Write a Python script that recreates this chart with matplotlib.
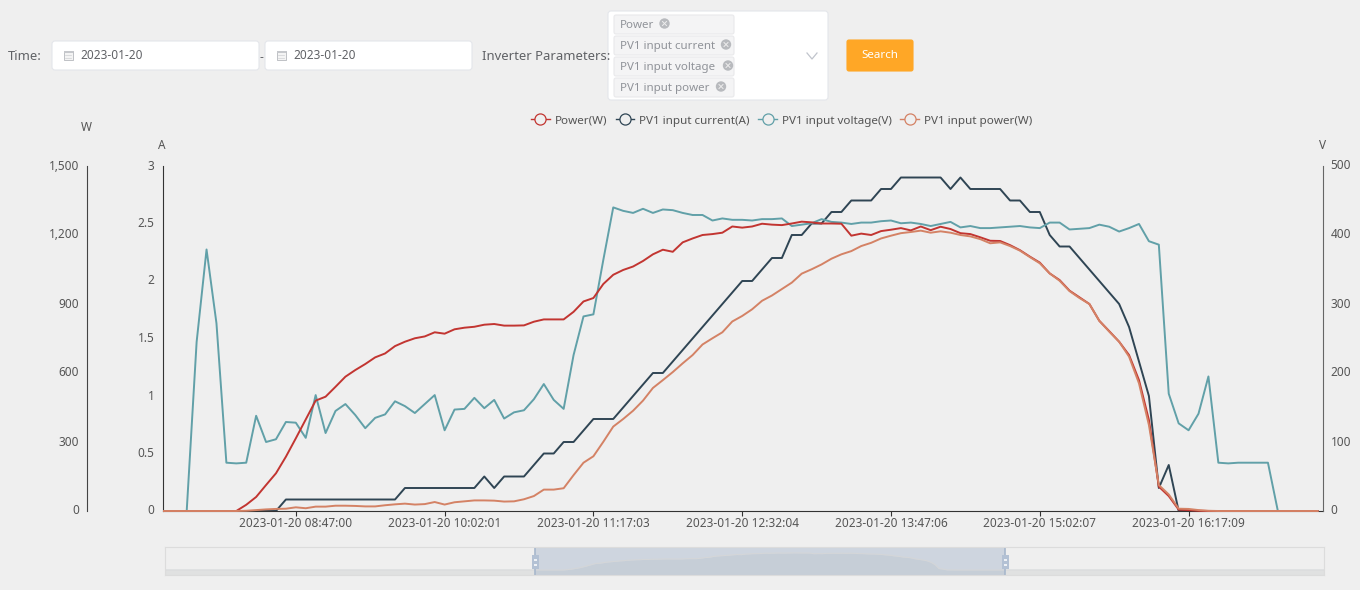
import numpy as np
import matplotlib
matplotlib.use("Agg")
import matplotlib.pyplot as plt
from matplotlib.lines import Line2D
from matplotlib.patches import FancyBboxPatch, Rectangle, Circle
from matplotlib.transforms import Bbox, TransformedBbox, ScaledTranslation

plt.rcParams['font.family'] = ['Noto Sans', 'DejaVu Sans']

BG = '#efefef'
C_POWER, C_CUR, C_VOLT, C_INP = '#c23531', '#2f4554', '#61a0a8', '#d48265'

power_w = [0, 0, 0, 0, 0, 0, 0, 0, 0, 27, 61, 113, 164, 236, 316, 398, 480, 497, 540, 584, 613, 639, 668, 685, 717, 736,
           751, 759, 777, 771, 790, 797, 801, 810, 813, 806, 806, 807, 823, 833, 833, 833, 866, 911, 926, 987, 1027,
           1048, 1063, 1087, 1116, 1136, 1127, 1168, 1185, 1200, 1204, 1210, 1237, 1232, 1237, 1249, 1245, 1243, 1250,
           1258, 1255, 1250, 1250, 1249, 1197, 1206, 1200, 1217, 1223, 1230, 1220, 1237, 1221, 1236, 1226, 1208, 1204,
           1190, 1175, 1174, 1156, 1134, 1106, 1080, 1033, 1004, 958, 929, 900, 827, 782, 736, 678, 569, 396, 106, 65,
           6, 4, 1, 0, 0, 0, 0, 0, 0, 0, 0, 0, 0, 0, 0]
current_a = [0, 0, 0, 0, 0, 0, 0, 0, 0, 0, 0, 0, 0, 0.1, 0.1, 0.1, 0.1, 0.1, 0.1, 0.1, 0.1, 0.1, 0.1, 0.1, 0.1, 0.2,
             0.2, 0.2, 0.2, 0.2, 0.2, 0.2, 0.2, 0.3, 0.2, 0.3, 0.3, 0.3, 0.4, 0.5, 0.5, 0.6, 0.6, 0.7, 0.8, 0.8, 0.8,
             0.9, 1.0, 1.1, 1.2, 1.2, 1.3, 1.4, 1.5, 1.6, 1.7, 1.8, 1.9, 2.0, 2.0, 2.1, 2.2, 2.2, 2.4, 2.4, 2.5, 2.5,
             2.6, 2.6, 2.7, 2.7, 2.7, 2.8, 2.8, 2.9, 2.9, 2.9, 2.9, 2.9, 2.8, 2.9, 2.8, 2.8, 2.8, 2.8, 2.7, 2.7, 2.6,
             2.6, 2.4, 2.3, 2.3, 2.2, 2.1, 2.0, 1.9, 1.8, 1.6, 1.3, 1.0, 0.2, 0.4, 0, 0, 0, 0, 0, 0, 0, 0, 0, 0, 0, 0,
             0, 0, 0]
voltage_v = [0, 0, 0, 0, 245, 379, 272, 70, 69, 70, 138, 100, 104, 129, 128, 106, 168, 113, 145, 155, 139, 120, 135,
             140, 159, 152, 142, 155, 168, 117, 147, 148, 164, 149, 161, 134, 143, 146, 162, 184, 161, 148, 226, 282,
             285, 364, 440, 435, 432, 438, 432, 437, 436, 432, 429, 429, 421, 424, 422, 422, 421, 423, 423, 424, 413,
             415, 417, 423, 419, 418, 416, 418, 418, 420, 421, 417, 418, 416, 413, 416, 419, 411, 413, 410, 410, 411,
             412, 413, 411, 410, 418, 418, 408, 409, 410, 415, 412, 405, 410, 416, 391, 386, 170, 127, 117, 141, 195,
             70, 69, 70, 70, 70, 70, 0, 0, 0, 0, 0]
input_power_w = [0, 0, 0, 0, 0, 0, 0, 0, 0, 1, 4, 7, 9, 10, 16, 12, 19, 19, 23, 23, 22, 20, 20, 25, 29, 32, 28, 30, 39,
                 28, 38, 42, 46, 46, 45, 41, 42, 51, 65, 93, 93, 99, 156, 210, 238, 301, 367, 400, 436, 480, 535, 569,
                 604, 642, 678, 724, 751, 777, 824, 848, 877, 914, 937, 965, 993, 1032, 1051, 1072, 1097, 1116, 1130,
                 1152, 1166, 1185, 1197, 1208, 1213, 1219, 1210, 1216, 1210, 1200, 1194, 1182, 1164, 1168, 1152, 1132,
                 1104, 1077, 1033, 1001, 956, 926, 900, 827, 780, 736, 671, 555, 374, 113, 72, 10, 9, 4, 1, 0, 0, 0, 0,
                 0, 0, 0, 0, 0, 0, 0]

tick_positions = [14, 29, 44, 59, 74, 89, 104]
tick_labels = ['2023-01-20 08:47:00', '2023-01-20 10:02:01', '2023-01-20 11:17:03', '2023-01-20 12:32:04',
               '2023-01-20 13:47:06', '2023-01-20 15:02:07', '2023-01-20 16:17:09']
w_ticks = [0, 300, 600, 900, 1200, 1500]
a_ticks = [0, 0.5, 1, 1.5, 2, 2.5, 3]
a_labels = ['0', '0.5', '1', '1.5', '2', '2.5', '3']
v_ticks = [0, 100, 200, 300, 400, 500]
legend_names = ['Power(W)', 'PV1 input current(A)', 'PV1 input voltage(V)', 'PV1 input power(W)']
param_tags = ['Power', 'PV1 input current', 'PV1 input voltage', 'PV1 input power']
dates = ['2023-01-20', '2023-01-20']

W, H = 1360, 590
FS = 8.5
fig = plt.figure(figsize=(W / 100, H / 100), dpi=100, facecolor=BG)


def px_axes(x0, y0, x1, y1, **kw):
    return fig.add_axes([x0 / W, 1 - y1 / H, (x1 - x0) / W, (y1 - y0) / H], **kw)


# ---- main chart -------------------------------------------------------
ax_a = px_axes(162.5, 166, 1322.5, 511)
ax_v = ax_a.twinx()
ax_w = ax_a.twinx()
ax_a.set_zorder(2); ax_v.set_zorder(3); ax_w.set_zorder(4)
for a in (ax_v, ax_w):
    a.patch.set_visible(False)
ax_a.patch.set_visible(False)

x = np.arange(len(power_w))
clip = TransformedBbox(Bbox([[0, -0.02], [1, 1.02]]), ax_a.transAxes)
series = [(ax_w, power_w, C_POWER), (ax_a, current_a, C_CUR), (ax_v, voltage_v, C_VOLT), (ax_w, input_power_w, C_INP)]
for a, vals, c in series:
    ln, = a.plot(x, vals, color=c, lw=1.4, solid_joinstyle='round')
    ln.set_clip_box(clip)

for a, top in ((ax_a, 3), (ax_v, 500), (ax_w, 1500)):
    a.set_xlim(0.56, 117.5)
    a.set_ylim(0, top)
    for s in a.spines.values():
        s.set_visible(False)

TICKC = '#555555'
ax_a.spines['left'].set_visible(True)
ax_a.spines['left'].set_color('#333333')
ax_a.spines['bottom'].set_visible(True)
ax_a.spines['bottom'].set_color('#333333')
ax_a.set_yticks(a_ticks, a_labels)
ax_a.tick_params(axis='y', length=0, pad=5.8, labelsize=FS, labelcolor=TICKC)
ax_a.set_xticks(tick_positions, tick_labels)
ax_a.tick_params(axis='x', length=3.6, width=0.8, color='#333333', pad=0.5, labelsize=FS, labelcolor=TICKC)

ax_w.spines['left'].set_visible(True)
ax_w.spines['left'].set_position(('outward', 75.5 * 0.72))
ax_w.spines['left'].set_color('#444444')
ax_w.yaxis.set_label_position('left')
ax_w.yaxis.tick_left()
ax_w.set_yticks(w_ticks, [f'{v:,}' for v in w_ticks])
ax_w.tick_params(axis='y', length=0, pad=5.8, labelsize=FS, labelcolor=TICKC)

ax_v.spines['right'].set_visible(True)
ax_v.spines['right'].set_color('#666666')
ax_v.set_yticks(v_ticks, [str(v) for v in v_ticks])
ax_v.tick_params(axis='y', length=0, pad=5.8, labelsize=FS, labelcolor=TICKC)

up = ScaledTranslation(0, 1.5 / 100, fig.dpi_scale_trans)
for a in (ax_a, ax_v, ax_w):
    for lab in a.get_yticklabels():
        lab.set_transform(lab.get_transform() + up)

# ---- legend -----------------------------------------------------------
handles = [Line2D([], [], color=c, lw=1.0, marker='o', ms=8, mfc=BG, mew=0.9)
           for c in (C_POWER, C_CUR, C_VOLT, C_INP)]
fig.legend(handles, legend_names, loc='center', bbox_to_anchor=(781.5 / W, 1 - 121 / H), ncol=4, frameon=False,
           fontsize=8.4, handlelength=1.6, handletextpad=0.4, columnspacing=0.75, borderpad=0, labelcolor=TICKC)

# ---- overlay for the form controls -----------------------------------
ui = fig.add_axes([0, 0, 1, 1], zorder=1)
ui.set_xlim(0, W); ui.set_ylim(H, 0); ui.axis('off')
TXT = '#606266'


def box(x0, y0, x1, y1, fc, ec, r=3, lw=0.8):
    ui.add_patch(FancyBboxPatch((x0 + r, y0 + r), x1 - x0 - 2 * r, y1 - y0 - 2 * r,
                                boxstyle=f'round,pad={r},rounding_size={r}', fc=fc, ec=ec, lw=lw))


def cal(cx, cy):
    ui.add_patch(Rectangle((cx - 4.5, cy - 4.5), 9, 9, fc='#f4f4f4', ec='#b5b8bd', lw=0.6))
    ui.add_patch(Rectangle((cx - 4.5, cy - 4.5), 9, 2.5, fc='#c6c8cc', ec='none'))
    for dy in (0, 2.5):
        ui.plot([cx - 3, cx + 3], [cy + dy, cy + dy], color='#cfd1d4', lw=0.5)


ui.text(8, 56.5, 'Time:', fontsize=9.4, color=TXT, va='center')
for (bx0, bx1), d in zip(((52, 259), (265, 472)), dates):
    box(bx0, 41, bx1, 70, 'white', '#e4e6eb')
    cal(bx0 + 16, 55)
    ui.text(bx0 + 28.5, 55.5, d, fontsize=FS, color=TXT, va='center')
ui.text(259.5, 57.5, '-', fontsize=FS, color=TXT, va='center')
ui.text(482, 56.5, 'Inverter Parameters:', fontsize=9.4, color=TXT, va='center')

box(608, 11, 828, 100, 'white', '#e4e6eb')
close_x = [664.5, 726, 728, 721]
for i, (tag, cx) in enumerate(zip(param_tags, close_x)):
    y0 = 15 + 21 * i
    box(614, y0, 734, y0 + 19, '#f4f4f5', '#e9e9eb', r=2)
    ui.text(620, y0 + 10.5, tag, fontsize=8.3, color='#909399', va='center')
    ui.add_patch(Circle((cx, y0 + 8.5), 5.2, fc='#b8babe', ec='none'))
    ui.plot([cx - 2, cx + 2], [y0 + 6.5, y0 + 10.5], color='#eeeeee', lw=0.7)
    ui.plot([cx - 2, cx + 2], [y0 + 10.5, y0 + 6.5], color='#eeeeee', lw=0.7)
ui.plot([807, 812, 817], [53, 59, 53], color='#c0c4cc', lw=0.9)

box(847, 40, 913, 71, '#ffa726', '#ffa726', r=2)
ui.text(880, 55.5, 'Search', fontsize=8.3, color='white', ha='center', va='center')

ui.text(86.5, 127.5, 'W', fontsize=FS, color=TICKC, ha='center', va='center')
ui.text(162, 145.5, 'A', fontsize=FS, color=TICKC, ha='center', va='center')
ui.text(1322.5, 145.5, 'V', fontsize=FS, color=TICKC, ha='center', va='center')

# ---- data-zoom slider -------------------------------------------------
sl = px_axes(165, 547, 1324, 575, zorder=1)
sl.set_xlim(-93.6, 193.3)
sl.set_ylim(-368, 1691)
sl.set_xticks([]); sl.set_yticks([])
sl.patch.set_visible(False)
for s in sl.spines.values():
    s.set_color('#dcdcdc'); s.set_linewidth(0.8)
sk = np.concatenate(([-93.6], x - 3, [193.3]))
sv = np.concatenate(([0], power_w, [0]))
sl.fill_between(sk, -368, sv, color='#e0e1e1', lw=0)
sl.plot(sk, sv, color='#d4d6d8', lw=0.8)
sel0 = (535 - 165) / 1159 * 286.9 - 93.6
sel1 = (1005 - 165) / 1159 * 286.9 - 93.6
sl.axvspan(sel0, sel1, color='#a7b7cc', alpha=0.45, lw=0)
for s in (sel0, sel1):
    sl.axvline(s, color='#a7b7cc', lw=1.2)
for hx in (535, 1005):
    ui.add_patch(Rectangle((hx - 3.5, 555), 7, 14, fc='#b3c1d4', ec='none', zorder=5))
    ui.add_patch(Rectangle((hx - 1.5, 559), 3, 1.5, fc='#eef1f5', ec='none', zorder=6))
    ui.add_patch(Rectangle((hx - 1.5, 564), 3, 1.5, fc='#eef1f5', ec='none', zorder=6))
sl.set_zorder(0)

fig.savefig('out.png', dpi=100, facecolor=BG)
